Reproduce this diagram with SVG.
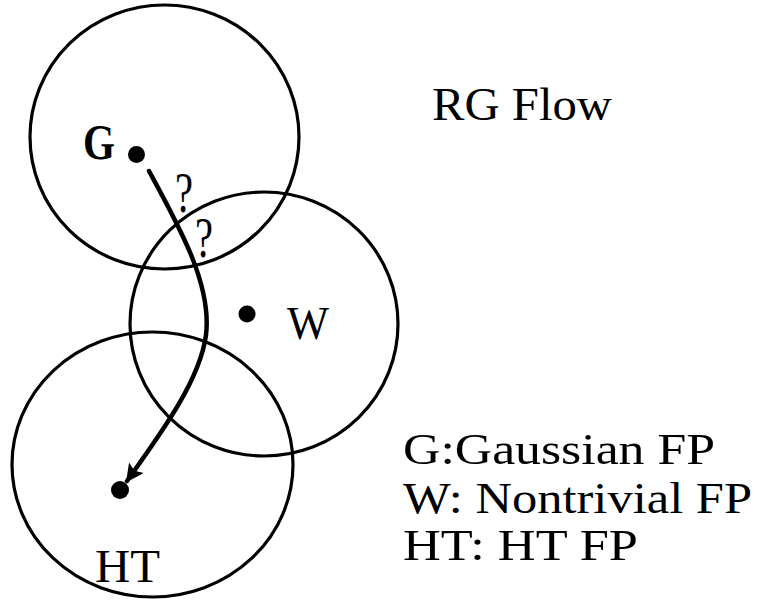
<svg xmlns="http://www.w3.org/2000/svg" width="768" height="601" viewBox="0 0 768 601">
<defs>
<style>
.c{fill:none;stroke:#000;stroke-width:3.2}
.d{fill:#000}
.t{font-family:"Liberation Serif","DejaVu Serif",serif;fill:#000}
</style>
<marker id="ah" viewBox="0 0 10 10" refX="9" refY="5" markerWidth="4.5" markerHeight="4" orient="auto" markerUnits="strokeWidth">
<path d="M0,0 L10,5 L0,10 L2,5 z" fill="#000"/>
</marker>
</defs>
<rect width="768" height="601" fill="#fff"/>
<g id="node-G">
<ellipse class="c" cx="164.5" cy="137" rx="134.5" ry="132"/>
<circle class="d" cx="136.5" cy="154.5" r="8.5"/>
<text class="t" x="83" y="159" font-size="50" font-weight="bold" textLength="32" lengthAdjust="spacingAndGlyphs">G</text>
</g>
<g id="node-W">
<ellipse class="c" cx="264" cy="324" rx="134" ry="132"/>
<circle class="d" cx="247" cy="314" r="8.5"/>
<text class="t" x="287" y="339" font-size="46" textLength="42" lengthAdjust="spacingAndGlyphs">W</text>
</g>
<g id="node-HT">
<ellipse class="c" cx="152.5" cy="464.5" rx="140.5" ry="132.5"/>
<circle class="d" cx="120" cy="490" r="9"/>
<text class="t" x="95" y="582" font-size="46" textLength="65" lengthAdjust="spacingAndGlyphs">HT</text>
</g>
<g id="connectors">
<path d="M149,171 C180,228 212,285 206,335 C200,380 162,432 127,481" fill="none" stroke="#000" stroke-width="4.5" stroke-linecap="round" marker-end="url(#ah)"/>
<text class="t" x="175" y="212" font-size="56" textLength="18" lengthAdjust="spacingAndGlyphs">?</text>
<text class="t" x="195" y="257" font-size="56" textLength="18" lengthAdjust="spacingAndGlyphs">?</text>
</g>
<g id="labels">
<text class="t" x="432" y="120" font-size="46" textLength="180" lengthAdjust="spacingAndGlyphs">RG Flow</text>
<text class="t" x="403" y="464" font-size="45" textLength="312" lengthAdjust="spacingAndGlyphs">G:Gaussian FP</text>
<text class="t" x="403" y="513" font-size="45" textLength="349" lengthAdjust="spacingAndGlyphs">W: Nontrivial FP</text>
<text class="t" x="403" y="560" font-size="45" textLength="235" lengthAdjust="spacingAndGlyphs">HT: HT FP</text>
</g>
</svg>
